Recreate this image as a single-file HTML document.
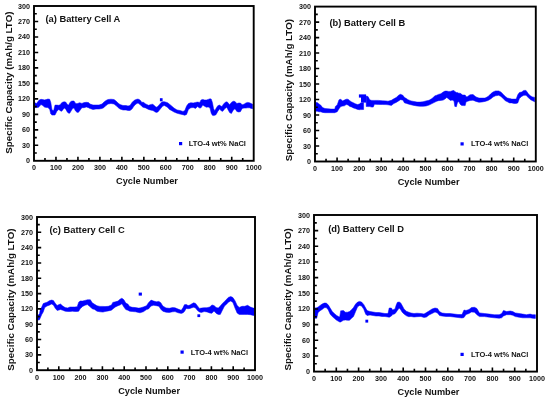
<!DOCTYPE html><html><head><meta charset="utf-8"><style>html,body{margin:0;padding:0;background:#fff;width:550px;height:400px;overflow:hidden}svg{display:block;will-change:transform}text{font-family:"Liberation Sans", sans-serif;font-weight:bold;fill:#111}</style></head><body>
<svg width="550" height="400" viewBox="0 0 550 400">
<rect width="550" height="400" fill="#fff"/>
<polygon fill="#0000ff" stroke="#0000ff" stroke-width="0.5" stroke-linejoin="round" points="34.2,102.2 36.4,103.6 38.2,101.3 39.3,99.9 41,99.3 42.8,99.6 44.5,99.9 46.2,99.6 47.9,99 49.7,99.3 50.8,102.5 52,110 53.7,110.5 55,105.1 56.9,105.1 58.8,105.3 60.2,104.8 61.7,102.7 63.1,102 64.5,101.8 65.9,102.2 67.4,104.6 68.8,105.1 69.7,102.7 71.2,101.3 72.6,101 74,101 75.4,103.2 76.9,103.7 78.3,103.2 79.7,102.7 81.9,103.4 84.1,102.6 86.3,102.3 88.5,102.6 90,104 93,105 96,105 99,105 102,104 104,102 106,100.5 108,99.5 111,99.2 114,99.5 116,101 118,103 120,104.5 123,105.5 126,105.5 128,106 130,105.5 132,102.5 134,100.5 136,99.5 138,99 140,100 142,102.5 143,102 145.7,103.9 148.5,105.3 151.2,104.4 152.9,104.2 154.5,105.8 156.2,107.2 157.8,106.4 159.5,104.4 161.1,102.5 162.8,101.7 164.4,101.7 166.1,102.2 167.7,102.8 169.5,104.2 171,105.4 174,108.1 177,109.9 180,110.5 183,111.4 184.8,110.5 186.6,106 188.4,103.6 190.8,102.7 193.2,103 195.6,102.4 197.4,102.1 199.8,102.4 201,100 202.8,99.4 204.6,100 206.4,100 208.2,99.4 210,98.8 211.2,99.1 212.4,102.4 213.6,108.7 214.8,110.8 216,108.4 217.8,105.7 219.6,105.1 220.8,106 222,106.6 223.2,104.5 225,102.4 226.8,101.8 227.8,102.4 229.6,104.8 231.4,102.4 233.2,101.2 235,101.5 236.8,103.6 238.6,103 240.4,103 242.2,104.8 244,104.2 245.8,103 247.6,102.4 249.4,102.7 251.2,103.6 252.6,104.2 252.6,108.7 251.2,108.4 249.4,107.8 247.6,107.8 245.8,108.1 244,108.1 242.2,108.4 240.4,111.7 238.6,112 236.8,111.4 235,108.7 233.2,110.2 231.4,113.5 229.6,112.6 227.8,109.3 226.8,107.2 225,108.4 223.2,110.8 222,111.4 220.8,110.2 219.6,109 217.8,111.4 216,114.7 214.8,115.3 213.6,115.6 212.4,115.3 211.2,113.2 210,108.1 208.2,106.9 206.4,107.2 204.6,106.3 202.8,105.1 201,107.8 199.8,108.1 197.4,106.6 195.6,108.4 193.2,107.5 190.8,107.8 188.4,109.6 186.6,114.4 184.8,115.3 183,114.7 180,114.1 177,113.2 174,112 171,110.2 169.5,109.5 167.7,107.5 166.1,106.4 164.4,105.5 162.8,106.1 161.1,108 159.5,110 157.8,112.1 156.2,112.4 154.5,111.6 152.9,110.5 151.2,110.2 148.5,109.4 145.7,108 143,107.2 142,106.5 140,104.5 138,103 136,104 134,106 132,109 130,110.5 128,110.5 126,110 123,110 120,109 118,107.5 116,105.5 114,104 111,103.5 108,104 106,105.5 104,107.5 102,108.5 99,109 96,109 93,109.5 90,108.5 88.5,107.7 86.3,107 84.1,107.7 81.9,107.7 79.7,110.8 78.3,112.4 76.9,112.2 75.4,110.8 74,107.9 72.6,108.4 71.2,110.8 69.7,113.2 68.8,113.2 67.4,112.2 65.9,109.4 64.5,107.9 63.1,109.4 61.7,111.3 60.2,110.8 58.8,109.4 56.9,111.3 55,115 53.7,115.1 52,115.1 50.8,114 49.7,109.4 47.9,107.4 46.2,107.4 44.5,107.1 42.8,105.6 41,104.5 39.3,106.5 38.2,107.4 36.4,107.6 34.2,107.5"/>
<rect x="159.9" y="98.2" width="2.7" height="3.1" fill="#0000ff"/>
<path d="M34 153.06h2.8M34 145.32h4.2M34 137.58h2.8M34 129.84h4.2M34 122.1h2.8M34 114.36h4.2M34 106.62h2.8M34 98.88h4.2M34 91.14h2.8M34 83.4h4.2M34 75.66h2.8M34 67.92h4.2M34 60.18h2.8M34 52.44h4.2M34 44.7h2.8M34 36.96h4.2M34 29.22h2.8M34 21.48h4.2M34 13.74h2.8M44.98 160.8v-2.8M55.97 160.8v-4M66.95 160.8v-2.8M77.94 160.8v-4M88.92 160.8v-2.8M99.91 160.8v-4M110.89 160.8v-2.8M121.88 160.8v-4M132.87 160.8v-2.8M143.85 160.8v-4M154.83 160.8v-2.8M165.82 160.8v-4M176.8 160.8v-2.8M187.79 160.8v-4M198.77 160.8v-2.8M209.76 160.8v-4M220.74 160.8v-2.8M231.73 160.8v-4M242.71 160.8v-2.8" stroke="#000" stroke-width="1.6" fill="none"/>
<rect x="34" y="6" width="219.7" height="154.8" fill="none" stroke="#000" stroke-width="1.9"/>
<text x="30" y="163.3" font-size="7.2" text-anchor="end">0</text>
<text x="30" y="147.82" font-size="7.2" text-anchor="end">30</text>
<text x="30" y="132.34" font-size="7.2" text-anchor="end">60</text>
<text x="30" y="116.86" font-size="7.2" text-anchor="end">90</text>
<text x="30" y="101.38" font-size="7.2" text-anchor="end">120</text>
<text x="30" y="85.9" font-size="7.2" text-anchor="end">150</text>
<text x="30" y="70.42" font-size="7.2" text-anchor="end">180</text>
<text x="30" y="54.94" font-size="7.2" text-anchor="end">210</text>
<text x="30" y="39.46" font-size="7.2" text-anchor="end">240</text>
<text x="30" y="23.98" font-size="7.2" text-anchor="end">270</text>
<text x="30" y="8.5" font-size="7.2" text-anchor="end">300</text>
<text x="34" y="169.9" font-size="7.2" text-anchor="middle">0</text>
<text x="55.97" y="169.9" font-size="7.2" text-anchor="middle">100</text>
<text x="77.94" y="169.9" font-size="7.2" text-anchor="middle">200</text>
<text x="99.91" y="169.9" font-size="7.2" text-anchor="middle">300</text>
<text x="121.88" y="169.9" font-size="7.2" text-anchor="middle">400</text>
<text x="143.85" y="169.9" font-size="7.2" text-anchor="middle">500</text>
<text x="165.82" y="169.9" font-size="7.2" text-anchor="middle">600</text>
<text x="187.79" y="169.9" font-size="7.2" text-anchor="middle">700</text>
<text x="209.76" y="169.9" font-size="7.2" text-anchor="middle">800</text>
<text x="231.73" y="169.9" font-size="7.2" text-anchor="middle">900</text>
<text x="253.7" y="169.9" font-size="7.2" text-anchor="middle">1000</text>
<text x="45.4" y="21.6" font-size="9.35">(a) Battery Cell A</text>
<text x="147" y="184.3" font-size="9.2" text-anchor="middle">Cycle Number</text>
<text transform="translate(11.9 82.6) rotate(-90)" font-size="9.8" text-anchor="middle">Specific Capacity (mAh/g LTO)</text>
<rect x="179" y="142" width="3.2" height="3.2" fill="#0000ff"/>
<text x="188.7" y="145.9" font-size="7.5">LTO-4 wt% NaCl</text>
<polygon fill="#0000ff" stroke="#0000ff" stroke-width="0.5" stroke-linejoin="round" points="315,102.5 317.2,102.5 319,104 320.8,105.2 322.6,107.6 325,108.5 328,108.8 331,109.1 334.8,109.1 335.4,106.4 337.2,104.9 339,99.8 340.8,99.2 342.6,101 344.4,100.1 346.2,99.2 348,99.2 349.8,100.7 351.6,101.9 353.4,102.8 355.2,103.7 357.6,104.6 359.4,104 360.5,103 363.6,102.6 363.6,109.5 360.5,109.6 359.4,109.7 357.6,109.4 355.2,108.5 353.4,107.9 351.6,107 349.8,106.4 348,104.9 346.2,104.6 344.4,105.8 342.6,106.1 340.8,106.4 339,108.8 337.2,111.8 335.4,112.4 334.8,112.7 331,112.7 328,112.7 325,112.7 322.6,112.4 320.8,111.8 319,111.8 317.2,111.2 315,111.2"/>
<polygon fill="#0000ff" stroke="#0000ff" stroke-width="0.5" stroke-linejoin="round" points="366.2,96 368,96.5 369.7,99.8 371.75,100.4 373.25,100.4 374.5,100.4 378.5,100.4 382.5,100.8 386,100.9 388,101.2 391.4,100.3 393.8,98.8 396.2,97.6 398.6,95.2 400.4,94.3 402.8,95.2 404.6,97.6 406,98.3 408,99.7 411,100.9 414,101.5 417,102.1 420,102.1 423,101.8 426,100.9 429,100.3 432,98.5 435,95.8 436.8,95.2 438.4,94.4 440.8,93.8 443.2,92 445,91.1 446.8,91.1 448.6,91.4 450.4,91.4 452.2,90.8 454,90.5 454.8,91.5 456.4,92.6 457.4,92.6 458.8,93.2 460,93.2 461.2,93.8 462.4,95 463.6,95 465.2,95.1 466,96.5 467,96.9 470,94.8 473,94.5 476,96.9 479,98.1 482,98.1 485,98.1 488,96.6 491,93.6 493,92 495.5,90.9 498.7,90.9 500.9,92 503.1,94.2 505.3,96.4 507.4,98 509.6,98.5 511.8,99.1 514,99.1 516.2,99.1 517.8,94.7 519.4,92.5 521.6,92 523.8,90.4 526,90.4 528.2,93.6 530.3,95.8 532.5,96.9 534.7,97.4 534.7,101.8 532.5,100.7 530.3,99.6 528.2,97.4 526,95.3 523.8,95.3 521.6,96.4 519.4,98.5 517.8,102.9 516.2,103.4 514,103.4 511.8,102.9 509.6,102.9 507.4,101.8 505.3,100.7 503.1,98.5 500.9,96.4 498.7,95.3 495.5,95.8 493,97 491,98.7 488,100.5 485,101.4 482,102 479,102.3 476,101.4 473,100.2 470,100.5 467,101.4 466,102 465.2,105.6 463.6,105.6 462.4,105.5 461.2,105.2 460,104 458.8,101.6 457.4,102.8 456.4,106.7 454.8,106.4 454,101 452.2,100.1 450.4,100.4 448.6,98.9 446.8,97.4 445,98.9 443.2,100.1 440.8,100.4 438.4,100.7 436.8,101.2 435,102.1 432,103.6 429,105.1 426,106 423,106.3 420,106.3 417,106 414,105.4 411,104.8 408,103.9 406,103.2 404.6,103 402.8,100 400.4,99.7 398.6,100.9 396.2,102.4 393.8,103.6 391.4,105.4 388,104.8 386,104.6 382.5,104.5 378.5,104.4 374.5,104.3 373.25,107.1 371.75,107.1 369.7,106.6 368,106.6 366.2,106.5"/>
<rect x="358.9" y="94.4" width="7.2" height="3.2" fill="#0000ff"/>
<rect x="361" y="97" width="5.3" height="5.6" fill="#0000ff"/>
<path d="M315 153.75h2.8M315 146.01h4.2M315 138.26h2.8M315 130.52h4.2M315 122.78h2.8M315 115.03h4.2M315 107.28h2.8M315 99.54h4.2M315 91.8h2.8M315 84.05h4.2M315 76.31h2.8M315 68.56h4.2M315 60.81h2.8M315 53.07h4.2M315 45.33h2.8M315 37.58h4.2M315 29.84h2.8M315 22.09h4.2M315 14.34h2.8M326.04 161.5v-2.8M337.08 161.5v-4M348.12 161.5v-2.8M359.16 161.5v-4M370.2 161.5v-2.8M381.24 161.5v-4M392.28 161.5v-2.8M403.32 161.5v-4M414.36 161.5v-2.8M425.4 161.5v-4M436.44 161.5v-2.8M447.48 161.5v-4M458.52 161.5v-2.8M469.56 161.5v-4M480.6 161.5v-2.8M491.64 161.5v-4M502.68 161.5v-2.8M513.72 161.5v-4M524.76 161.5v-2.8" stroke="#000" stroke-width="1.6" fill="none"/>
<rect x="315" y="6.6" width="220.8" height="154.9" fill="none" stroke="#000" stroke-width="1.9"/>
<text x="311" y="164" font-size="7.2" text-anchor="end">0</text>
<text x="311" y="148.51" font-size="7.2" text-anchor="end">30</text>
<text x="311" y="133.02" font-size="7.2" text-anchor="end">60</text>
<text x="311" y="117.53" font-size="7.2" text-anchor="end">90</text>
<text x="311" y="102.04" font-size="7.2" text-anchor="end">120</text>
<text x="311" y="86.55" font-size="7.2" text-anchor="end">150</text>
<text x="311" y="71.06" font-size="7.2" text-anchor="end">180</text>
<text x="311" y="55.57" font-size="7.2" text-anchor="end">210</text>
<text x="311" y="40.08" font-size="7.2" text-anchor="end">240</text>
<text x="311" y="24.59" font-size="7.2" text-anchor="end">270</text>
<text x="311" y="9.1" font-size="7.2" text-anchor="end">300</text>
<text x="315" y="170.6" font-size="7.2" text-anchor="middle">0</text>
<text x="337.08" y="170.6" font-size="7.2" text-anchor="middle">100</text>
<text x="359.16" y="170.6" font-size="7.2" text-anchor="middle">200</text>
<text x="381.24" y="170.6" font-size="7.2" text-anchor="middle">300</text>
<text x="403.32" y="170.6" font-size="7.2" text-anchor="middle">400</text>
<text x="425.4" y="170.6" font-size="7.2" text-anchor="middle">500</text>
<text x="447.48" y="170.6" font-size="7.2" text-anchor="middle">600</text>
<text x="469.56" y="170.6" font-size="7.2" text-anchor="middle">700</text>
<text x="491.64" y="170.6" font-size="7.2" text-anchor="middle">800</text>
<text x="513.72" y="170.6" font-size="7.2" text-anchor="middle">900</text>
<text x="535.8" y="170.6" font-size="7.2" text-anchor="middle">1000</text>
<text x="329.5" y="26" font-size="9.35">(b) Battery Cell B</text>
<text x="428.6" y="185" font-size="9.2" text-anchor="middle">Cycle Number</text>
<text transform="translate(292 90.1) rotate(-90)" font-size="9.8" text-anchor="middle">Specific Capacity (mAh/g LTO)</text>
<rect x="460.5" y="142.3" width="3.2" height="3.2" fill="#0000ff"/>
<text x="471" y="146.3" font-size="7.5">LTO-4 wt% NaCl</text>
<polygon fill="#0000ff" stroke="#0000ff" stroke-width="0.5" stroke-linejoin="round" points="36.9,315.3 38,315.3 39.5,313.75 40.25,309.6 41.75,307 43.25,303.6 44.75,302.9 47,302.3 49.25,300.8 51.5,300.1 53.4,300.5 55.25,303.3 57.1,305.5 59,304.6 60.5,304 62.8,306.1 65.2,307.6 67.6,307.9 70,307 72.4,307 74.8,307 77.2,306.7 78.7,302.2 80.2,301 82.6,301 85,300.4 87.4,299.8 90.4,299.8 92.2,302.8 94.6,304.3 97,305.8 100,306.4 103,306.4 105,306.6 108.3,306.3 111.5,305 112.8,302.4 115.4,301.8 118,301.1 120,299.2 121.9,298.2 123.9,299.8 125.8,303.1 127.8,304 129.7,306.6 132.3,307.3 135.6,307.6 138.3,308.1 140,307.9 143.3,307 146.5,305.7 148.5,302.7 151.1,300.1 153.7,301.1 156.3,301.8 158.9,301.4 160.8,302.7 162.8,306 166,307.9 169.3,308.3 172.5,307.6 175,307.8 178.1,309.1 181.25,310.3 183.1,307.5 184.4,304.7 186.25,304.4 188.1,305.6 190,305 191.9,303.75 193.75,302.8 195.6,303.4 197.5,305.9 199.4,308.4 201.25,308.1 204.2,307.7 207,307.7 209.8,307 211.9,304.9 214,305.6 216.1,307.4 218.2,308.1 220.3,306 222.4,303.5 224.5,301.4 226.6,299.3 228.3,297.4 230.8,296.5 232.9,297.6 235,300.7 237.1,305.3 239.2,307.4 242,306.3 244.8,306.3 247.6,305.3 250.4,307 253.2,308.1 254.2,308.1 254.2,315.4 253.2,315.4 250.4,314.7 247.6,314.4 244.8,314.4 242,314.4 239.2,314.4 237.1,313 235,308.1 232.9,302.5 230.8,300.9 228.3,302.3 226.6,304.2 224.5,306 222.4,310.2 220.3,314.4 218.2,314.4 216.1,313.3 214,310.9 211.9,313.3 209.8,313 207,311.9 204.2,311.6 201.25,312.5 199.4,311.9 197.5,310.6 195.6,308.1 193.75,307.2 191.9,307.8 190,308.4 188.1,308.75 186.25,308.4 184.4,311.6 183.1,312.8 181.25,313.4 178.1,312.8 175,311.6 172.5,311.8 169.3,312.5 166,312.2 162.8,311.2 160.8,309.2 158.9,306.3 156.3,305.7 153.7,305.3 151.1,306 148.5,308.9 146.5,309.6 143.3,311.8 140,312.8 138.3,312.4 135.6,311.8 132.3,311.5 129.7,311.2 127.8,310.2 125.8,309.6 123.9,307 121.9,303.7 120,305 118,305.7 115.4,307 112.8,308.9 111.5,310.2 108.3,310.9 105,311.5 103,312.1 100,311.8 97,311.2 94.6,309.4 92.2,308.8 90.4,307 87.4,304.6 85,305.2 82.6,306.4 80.2,308.8 78.7,311.2 77.2,311.5 74.8,311.5 72.4,311.2 70,311.5 67.6,311.5 65.2,311.2 62.8,310.3 60.5,309.5 59,310 57.1,310.4 55.25,308.3 53.4,305 51.5,304 49.25,305.2 47,306 44.75,307.5 43.25,311.9 41.75,314.5 40.25,317.9 39.5,319.75 38,320.1 36.9,320.1"/>
<rect x="138.7" y="292.6" width="3.2" height="3" fill="#0000ff"/>
<rect x="197.4" y="314.3" width="2.8" height="2.8" fill="#0000ff"/>
<path d="M37 362.54h2.8M37 354.88h4.2M37 347.22h2.8M37 339.56h4.2M37 331.9h2.8M37 324.24h4.2M37 316.58h2.8M37 308.92h4.2M37 301.26h2.8M37 293.6h4.2M37 285.94h2.8M37 278.28h4.2M37 270.62h2.8M37 262.96h4.2M37 255.3h2.8M37 247.64h4.2M37 239.98h2.8M37 232.32h4.2M37 224.66h2.8M47.9 370.2v-2.8M58.8 370.2v-4M69.7 370.2v-2.8M80.6 370.2v-4M91.5 370.2v-2.8M102.4 370.2v-4M113.3 370.2v-2.8M124.2 370.2v-4M135.1 370.2v-2.8M146 370.2v-4M156.9 370.2v-2.8M167.8 370.2v-4M178.7 370.2v-2.8M189.6 370.2v-4M200.5 370.2v-2.8M211.4 370.2v-4M222.3 370.2v-2.8M233.2 370.2v-4M244.1 370.2v-2.8" stroke="#000" stroke-width="1.6" fill="none"/>
<rect x="37" y="217" width="218" height="153.2" fill="none" stroke="#000" stroke-width="1.9"/>
<text x="33" y="372.7" font-size="7.2" text-anchor="end">0</text>
<text x="33" y="357.38" font-size="7.2" text-anchor="end">30</text>
<text x="33" y="342.06" font-size="7.2" text-anchor="end">60</text>
<text x="33" y="326.74" font-size="7.2" text-anchor="end">90</text>
<text x="33" y="311.42" font-size="7.2" text-anchor="end">120</text>
<text x="33" y="296.1" font-size="7.2" text-anchor="end">150</text>
<text x="33" y="280.78" font-size="7.2" text-anchor="end">180</text>
<text x="33" y="265.46" font-size="7.2" text-anchor="end">210</text>
<text x="33" y="250.14" font-size="7.2" text-anchor="end">240</text>
<text x="33" y="234.82" font-size="7.2" text-anchor="end">270</text>
<text x="33" y="219.5" font-size="7.2" text-anchor="end">300</text>
<text x="37" y="379.6" font-size="7.2" text-anchor="middle">0</text>
<text x="58.8" y="379.6" font-size="7.2" text-anchor="middle">100</text>
<text x="80.6" y="379.6" font-size="7.2" text-anchor="middle">200</text>
<text x="102.4" y="379.6" font-size="7.2" text-anchor="middle">300</text>
<text x="124.2" y="379.6" font-size="7.2" text-anchor="middle">400</text>
<text x="146" y="379.6" font-size="7.2" text-anchor="middle">500</text>
<text x="167.8" y="379.6" font-size="7.2" text-anchor="middle">600</text>
<text x="189.6" y="379.6" font-size="7.2" text-anchor="middle">700</text>
<text x="211.4" y="379.6" font-size="7.2" text-anchor="middle">800</text>
<text x="233.2" y="379.6" font-size="7.2" text-anchor="middle">900</text>
<text x="255" y="379.6" font-size="7.2" text-anchor="middle">1000</text>
<text x="49.5" y="232.6" font-size="9.35">(c) Battery Cell C</text>
<text x="149.1" y="393.5" font-size="9.2" text-anchor="middle">Cycle Number</text>
<text transform="translate(14.3 299.6) rotate(-90)" font-size="9.8" text-anchor="middle">Specific Capacity (mAh/g LTO)</text>
<rect x="180.5" y="350.5" width="3.2" height="3.2" fill="#0000ff"/>
<text x="190.8" y="355" font-size="7.5">LTO-4 wt% NaCl</text>
<polygon fill="#0000ff" stroke="#0000ff" stroke-width="0.5" stroke-linejoin="round" points="314.4,308.1 316.7,307.8 318.1,307.1 320.1,305.4 322.1,304.1 324.2,303.1 326.2,303.1 328.2,304.8 330.2,308.1 332.3,311.5 334.3,313.5 336.3,315.2 338.4,316.6 339.7,316.9 340.7,310.8 341.4,310.8 343.4,310.5 345.4,312.2 347.5,312.2 349.5,311.5 351.5,309.8 353.5,307.5 355.6,304.1 357.6,302.1 359.6,301.4 361.6,302.1 363.7,304.4 365.7,308.1 367.1,310.5 368.5,311 370,311.5 373,312 376,312.5 379,312.5 382,313 385,313.5 388,313.5 389.2,308 391.4,308 392.6,310.1 395,308.9 396.2,305 397.4,302.3 399.2,302 400.7,302.9 402.2,305.6 404,308.9 406.4,311.3 408.8,312.2 411,313 414,313.5 417,313.2 421,313.5 424,314 426.5,312.5 429,311 432,309 435,308 437.5,308.5 439.5,311.5 442,313 446,313.5 450,313.5 454,314 458,314.5 462,314.5 464,310 466,310.5 469,309.5 471.5,307.5 474.5,307.3 476.9,308.5 479.4,312.9 484.4,313.5 489.3,314.1 494.2,314.7 499.2,314.7 501.7,313.5 503.5,310.4 506.6,311.6 510.3,311 512.8,311.6 515.3,312.9 519,313.5 522.7,314.1 526.4,314.7 530.1,314.1 532.6,314.7 535.4,314.7 535.4,318.4 532.6,318.2 530.1,317.8 526.4,317.8 522.7,317.8 519,317.2 515.3,316.6 512.8,315.3 510.3,314.7 506.6,314.7 503.5,316 501.7,317.8 499.2,318.2 494.2,317.8 489.3,317.2 484.4,316.6 479.4,316.6 476.9,314.7 474.5,312.2 471.5,312 469,313.5 466,314.5 464,317.5 462,318 458,317.5 454,317 450,316.5 446,316.5 442,316 439.5,315.5 437.5,313 435,312 432,313.5 429,315 426.5,317 424,317.5 421,316.5 417,316.7 414,317 411,316.5 408.8,316.7 406.4,315.8 404,314 402.2,312.2 400.7,309.8 399.2,308 397.4,310.4 396.2,312.2 395,313.7 392.6,314.6 391.4,316 389.2,317.3 388,317 385,316.5 382,316.5 379,316 376,316 373,315.5 370,315 368.5,315.3 367.1,315.6 365.7,314.2 363.7,309.1 361.6,306.1 359.6,305.4 357.6,306.8 355.6,311.5 353.5,316.6 351.5,318.3 349.5,320.3 347.5,320.3 345.4,320 343.4,320.3 341.4,321.6 340.7,322 339.7,322 338.4,321.3 336.3,320 334.3,318.3 332.3,316.6 330.2,314.2 328.2,309.8 326.2,307.5 324.2,307.8 322.1,309.5 320.1,310.8 318.1,312.5 316.7,318.3 314.4,318.3"/>
<rect x="365.4" y="319.7" width="2.8" height="2.9" fill="#0000ff"/>
<path d="M314 363.77h2.8M314 355.94h4.2M314 348.11h2.8M314 340.28h4.2M314 332.45h2.8M314 324.62h4.2M314 316.79h2.8M314 308.96h4.2M314 301.13h2.8M314 293.3h4.2M314 285.47h2.8M314 277.64h4.2M314 269.81h2.8M314 261.98h4.2M314 254.15h2.8M314 246.32h4.2M314 238.49h2.8M314 230.66h4.2M314 222.83h2.8M325.15 371.6v-2.8M336.3 371.6v-4M347.45 371.6v-2.8M358.6 371.6v-4M369.75 371.6v-2.8M380.9 371.6v-4M392.05 371.6v-2.8M403.2 371.6v-4M414.35 371.6v-2.8M425.5 371.6v-4M436.65 371.6v-2.8M447.8 371.6v-4M458.95 371.6v-2.8M470.1 371.6v-4M481.25 371.6v-2.8M492.4 371.6v-4M503.55 371.6v-2.8M514.7 371.6v-4M525.85 371.6v-2.8" stroke="#000" stroke-width="1.6" fill="none"/>
<rect x="314" y="215" width="223" height="156.6" fill="none" stroke="#000" stroke-width="1.9"/>
<text x="310" y="374.1" font-size="7.2" text-anchor="end">0</text>
<text x="310" y="358.44" font-size="7.2" text-anchor="end">30</text>
<text x="310" y="342.78" font-size="7.2" text-anchor="end">60</text>
<text x="310" y="327.12" font-size="7.2" text-anchor="end">90</text>
<text x="310" y="311.46" font-size="7.2" text-anchor="end">120</text>
<text x="310" y="295.8" font-size="7.2" text-anchor="end">150</text>
<text x="310" y="280.14" font-size="7.2" text-anchor="end">180</text>
<text x="310" y="264.48" font-size="7.2" text-anchor="end">210</text>
<text x="310" y="248.82" font-size="7.2" text-anchor="end">240</text>
<text x="310" y="233.16" font-size="7.2" text-anchor="end">270</text>
<text x="310" y="217.5" font-size="7.2" text-anchor="end">300</text>
<text x="314" y="380.6" font-size="7.2" text-anchor="middle">0</text>
<text x="336.3" y="380.6" font-size="7.2" text-anchor="middle">100</text>
<text x="358.6" y="380.6" font-size="7.2" text-anchor="middle">200</text>
<text x="380.9" y="380.6" font-size="7.2" text-anchor="middle">300</text>
<text x="403.2" y="380.6" font-size="7.2" text-anchor="middle">400</text>
<text x="425.5" y="380.6" font-size="7.2" text-anchor="middle">500</text>
<text x="447.8" y="380.6" font-size="7.2" text-anchor="middle">600</text>
<text x="470.1" y="380.6" font-size="7.2" text-anchor="middle">700</text>
<text x="492.4" y="380.6" font-size="7.2" text-anchor="middle">800</text>
<text x="514.7" y="380.6" font-size="7.2" text-anchor="middle">900</text>
<text x="537" y="380.6" font-size="7.2" text-anchor="middle">1000</text>
<text x="328.2" y="231.6" font-size="9.35">(d) Battery Cell D</text>
<text x="428.5" y="394.6" font-size="9.2" text-anchor="middle">Cycle Number</text>
<text transform="translate(291 299.3) rotate(-90)" font-size="9.8" text-anchor="middle">Specific Capacity (mAh/g LTO)</text>
<rect x="460.5" y="352.8" width="3.2" height="3.2" fill="#0000ff"/>
<text x="471" y="356.7" font-size="7.5">LTO-4 wt% NaCl</text>
</svg></body></html>
